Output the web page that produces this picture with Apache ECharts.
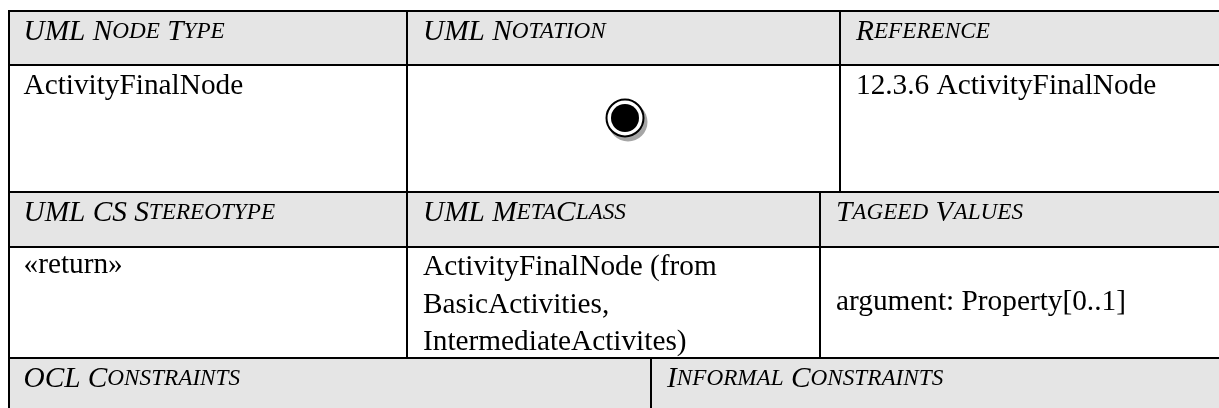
<!DOCTYPE html>
<html><head><meta charset="utf-8">
<style>html,body{margin:0;padding:0;background:#fff}#c{width:1219px;height:408px}</style>
<script src="https://cdn.jsdelivr.net/npm/echarts@6/dist/echarts.min.js"></script>
</head><body><div id="c"></div>
<script>
// Table cells: left, top, right, bottom, header?(1/0), text
const cells = [
 [9,11,407,65,1,'UML Node Type'],
 [407,11,840,65,1,'UML Notation'],
 [840,11,1230,65,1,'Reference'],
 [9,65,407,192,0,'ActivityFinalNode'],
 [407,65,840,192,0,''],
 [840,65,1230,192,0,'12.3.6 ActivityFinalNode'],
 [9,192,407,247,1,'UML CS Stereotype'],
 [407,192,820,247,1,'UML MetaClass'],
 [820,192,1230,247,1,'Tageed Values'],
 [9,247,407,358,0,'«return»'],
 [407,247,820,358,0,'ActivityFinalNode (from\nBasicActivities,\nIntermediateActivites)'],
 [820,247,1230,358,0,'argument: Property[0..1]'],
 [9,358,651,420,1,'OCL Constraints'],
 [651,358,1230,420,1,'Informal Constraints']
];
const vCentered = ['argument: Property[0..1]'];
const nodeMark = [[625,118]];
const shadowMark = [[628,122]];

function smallCaps(s){
  return s.replace(/[a-z]+|[^a-z]+/g, m => /[a-z]/.test(m) ? '{s|'+m.toUpperCase()+'}' : '{b|'+m+'}');
}
const chart = echarts.init(document.getElementById('c'),null,{renderer:'canvas'});
const font = '"Liberation Serif"';
chart.setOption({
  animation:false,
  backgroundColor:'#fff',
  grid:{left:0,right:0,top:0,bottom:0},
  xAxis:{type:'value',min:0,max:1219,show:false},
  yAxis:{type:'value',min:0,max:408,inverse:true,show:false},
  series:[
   {type:'custom',clip:true,data:cells,encode:{x:[0,2],y:[1,3]},silent:true,z:1,
    renderItem(p,api){
      const c=cells[p.dataIndex];
      const a=api.coord([c[0],c[1]]),b=api.coord([c[2],c[3]]);
      const head=c[4]===1, cen=vCentered.includes(c[5]);
      const multi=c[5].includes('\n'), low=a[1]>200;
      const tx=a[0]+(c[0]===9?14.5:16), ty=cen?(a[1]+b[1])/2:a[1]+(head?5:(low?2:5));
      const common={x:tx,y:ty,verticalAlign:cen?'middle':'top',align:'left',fill:'#000',fontFamily:font};
      const textStyle=head?{...common,text:smallCaps(c[5]),fontStyle:'italic',
         rich:{b:{fontSize:29.3,fontStyle:'italic',fontFamily:font,fill:'#000',lineHeight:32},
               s:{fontSize:23.2,fontStyle:'italic',fontFamily:font,fill:'#000',lineHeight:32}}}
        :{...common,text:c[5],fontSize:29.3,lineHeight:multi?37.5:32};
      return {type:'group',children:[
        {type:'rect',shape:{x:a[0],y:a[1],width:b[0]-a[0],height:b[1]-a[1]},
         style:{fill:head?'#e5e5e5':'#fff',stroke:'#000',lineWidth:2}},
        {type:'text',style:textStyle,z2:5}
      ]};
    }},
   {type:'scatter',data:shadowMark,symbol:'circle',symbolSize:39,itemStyle:{color:'#a6a6a6',opacity:1},silent:true,z:2},
   {type:'scatter',data:nodeMark,symbol:'circle',symbolSize:37,itemStyle:{color:'#fff',borderColor:'#000',borderWidth:2,opacity:1},silent:true,z:3},
   {type:'scatter',data:nodeMark,symbol:'circle',symbolSize:28,itemStyle:{color:'#000',opacity:1},silent:true,z:4}
  ]
});
</script></body></html>
